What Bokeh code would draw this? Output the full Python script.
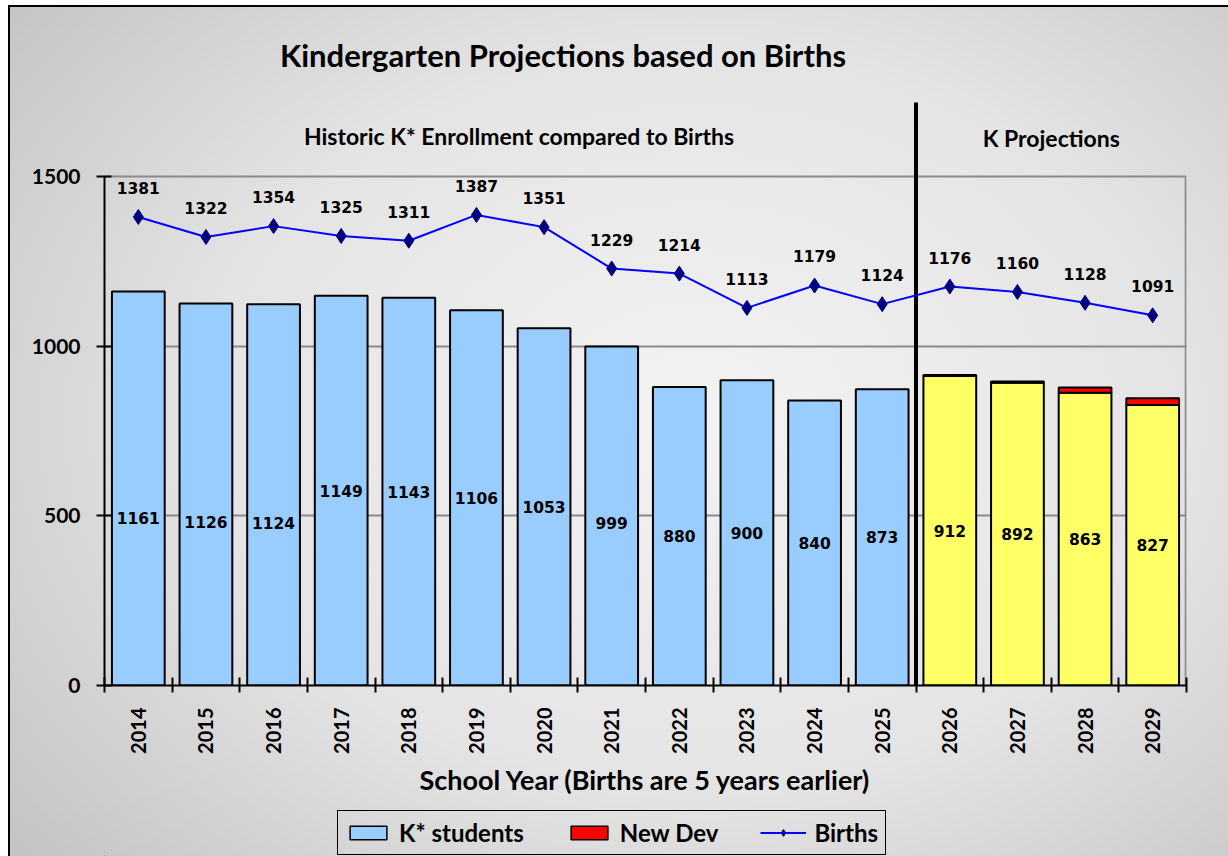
from bokeh.plotting import figure
from bokeh.layouts import column
from bokeh.models import (Range1d, FixedTicker, ColumnDataSource, Legend, LegendItem)
from bokeh.core.properties import value
from bokeh.embed import file_html
from bokeh.resources import INLINE

# ---------------- data ----------------
years = ["2014", "2015", "2016", "2017", "2018", "2019", "2020", "2021",
         "2022", "2023", "2024", "2025", "2026", "2027", "2028", "2029"]
k_students = [1161, 1126, 1124, 1149, 1143, 1106, 1053, 999, 880, 900, 840, 873]
k_projected = [912, 892, 863, 827]
new_dev = [3, 4, 15, 20]
births = [1381, 1322, 1354, 1325, 1311, 1387, 1351, 1229, 1214, 1113, 1179,
          1124, 1176, 1160, 1128, 1091]
y_ticks = [0, 500, 1000, 1500]
series_names = ["K* students", "New Dev", "Births"]

title_text = "Kindergarten Projections based on Births"
hist_text = "Historic K* Enrollment compared to Births"
proj_text = "K Projections"
x_label = "School Year (Births are 5 years earlier)"

# label placement tweaks (styling only)
bar_label_px_shift = [29, 28, 28, 0, 0, 0, 0, 7, 0, 0, 0, 0, 0, 0, 0, 0]

n_hist = len(k_students)
n = len(years)
xc = [i + 0.5 for i in range(n)]

TXT = "Lato"
NUM = "DejaVu Sans"
BLUE_BAR = "#99ccff"
YELLOW = "#ffff66"
RED = "#ff0000"
LINE = "#0000ff"
MARK = "#000080"

p = figure(width=1228, height=800, output_backend="svg", toolbar_location=None,
           x_range=Range1d(0, n), y_range=Range1d(0, 2019),
           min_border_left=104, min_border_right=42, min_border_top=0,
           min_border_bottom=115)
p.border_fill_alpha = 0
p.background_fill_alpha = 0
p.outline_line_color = None

# grid
p.xgrid.visible = False
p.ygrid.ticker = FixedTicker(ticks=[500, 1000, 1500])
p.ygrid.grid_line_color = "#8a8a8a"
p.ygrid.grid_line_width = 2

# y axis
ya = p.yaxis[0]
ya.ticker = FixedTicker(ticks=y_ticks)
ya.bounds = (0, 1500)
ya.axis_line_color = "black"
ya.axis_line_width = 2
ya.major_tick_in = 7
ya.major_tick_out = 8
ya.major_tick_line_width = 2
ya.minor_tick_line_color = None
ya.major_label_standoff = 16
ya.major_label_text_font = TXT
ya.major_label_text_font_style = "bold"
ya.major_label_text_font_size = "21px"
ya.major_label_text_color = "black"

# x axis
xa = p.xaxis[0]
xa.ticker = FixedTicker(ticks=xc, minor_ticks=list(range(n + 1)))
xa.major_label_overrides = {c: y for c, y in zip(xc, years)}
xa.major_tick_line_color = None
xa.major_tick_in = 0
xa.major_tick_out = 0
xa.minor_tick_line_color = "black"
xa.minor_tick_line_width = 2
xa.minor_tick_in = 8
xa.minor_tick_out = 7
xa.axis_line_color = "black"
xa.axis_line_width = 2
xa.major_label_orientation = 1.5708
xa.major_label_standoff = 15
xa.major_label_text_font = TXT
xa.major_label_text_font_style = "bold"
xa.major_label_text_font_size = "20px"
xa.major_label_text_color = "black"
xa.axis_label = x_label
xa.axis_label_text_font = TXT
xa.axis_label_text_font_style = "bold"
xa.axis_label_text_font_size = "27px"
xa.axis_label_text_color = "black"
xa.axis_label_standoff = 6

# right border of plot area and divider
p.segment(x0=[n - 0.012], y0=[0], x1=[n - 0.012], y1=[y_ticks[-1]],
          line_color="#8a8a8a", line_width=2)
p.segment(x0=[n_hist], y0=[0], x1=[n_hist], y1=[1718],
          line_color="black", line_width=4)

# bars
hist_src = ColumnDataSource(dict(x=xc[:n_hist], top=k_students))
p.vbar(x="x", top="top", width=0.78, bottom=0, source=hist_src,
       fill_color=BLUE_BAR, line_color="black", line_width=2)
proj_x = xc[n_hist:]
tot = [a + b for a, b in zip(k_projected, new_dev)]
p.vbar(x=proj_x, top=k_projected, bottom=0, width=0.78,
       fill_color=YELLOW, line_color="black", line_width=2)
p.vbar(x=proj_x, top=tot, bottom=k_projected, width=0.78,
       fill_color=RED, line_color="black", line_width=2)

# births line
p.line(xc, births, line_color=LINE, line_width=2)
p.scatter(xc, births, marker="diamond", size=15, fill_color=MARK,
          line_color=MARK)

# labels
all_k = k_students + k_projected
for i, v in enumerate(all_k):
    p.text(x=[xc[i]], y=[v / 2], text=[str(v)], text_align="center",
           text_baseline="middle", y_offset=bar_label_px_shift[i],
           text_font=value(NUM), text_font_style="bold",
           text_font_size="15.5px", text_color="black")
p.text(x=xc, y=births, text=[str(b) for b in births], text_align="center",
       text_baseline="middle", y_offset=-29, text_font=value(NUM),
       text_font_style="bold", text_font_size="15.5px", text_color="black")

# titles
p.text(x=[6.78], y=[1857], text=[title_text], text_align="center",
       text_baseline="middle", text_font=value(TXT), text_font_style="bold",
       text_font_size="31px", text_color="black")
p.text(x=[6.13], y=[1621], text=[hist_text], text_align="center",
       text_baseline="middle", text_font=value(TXT), text_font_style="bold",
       text_font_size="23px", text_color="black")
p.text(x=[14.0], y=[1615], text=[proj_text], text_align="center",
       text_baseline="middle", text_font=value(TXT), text_font_style="bold",
       text_font_size="23px", text_color="black")

# ---------------- legend strip ----------------
lf = figure(width=1228, height=56, output_backend="svg", toolbar_location=None,
            x_range=Range1d(0, 10), y_range=Range1d(0, 10),
            x_axis_location=None, y_axis_location=None,
            min_border=0)
lf.border_fill_alpha = 0
lf.background_fill_alpha = 0
lf.outline_line_color = None
lf.grid.visible = False
# off-screen sample glyphs used only for the legend swatches
r_blue = lf.vbar(x=[-100], top=[-100], bottom=[-101], width=1,
                 fill_color=BLUE_BAR, line_color="black", line_width=1.5)
r_red = lf.vbar(x=[-100], top=[-100], bottom=[-101], width=1,
                fill_color=RED, line_color="black", line_width=1.5)
r_line = lf.line(x=[-100, -99], y=[-100, -100], line_color=LINE, line_width=2)
r_mark = lf.scatter(x=[-100], y=[-100], marker="diamond", size=14,
                    fill_color=MARK, line_color=MARK)
legend = Legend(items=[LegendItem(label=series_names[0], renderers=[r_blue]),
                       LegendItem(label=series_names[1], renderers=[r_red]),
                       LegendItem(label=series_names[2], renderers=[r_line, r_mark])],
                orientation="horizontal", location=(233, 1))
legend.border_line_color = "black"
legend.border_line_alpha = 1.0
legend.border_line_width = 1.5
legend.background_fill_alpha = 0
legend.label_text_font = TXT
legend.label_text_font_style = "bold"
legend.label_text_font_size = "24px"
legend.label_text_color = "black"
legend.glyph_width = 46
legend.glyph_height = 17
legend.label_height = 20
legend.label_standoff = 8
legend.spacing = 42
legend.padding = 7
legend.margin = 0
lf.add_layout(legend, "center")

page = column(p, lf, spacing=0)
page.styles = {
    "background":
        "linear-gradient(#000, #000) 8px 5px / 2px 100% no-repeat, "
        "linear-gradient(#000, #000) 8px 5px / 100% 2px no-repeat, "
        "radial-gradient(ellipse 72% 78% at 56% 48%, #f3f3f3 0%, #e4e4e4 55%, #c4c4c4 100%) 10px 7px / 100% 100% no-repeat, "
        "#ffffff",
}

open("out.html", "w").write(file_html(page, INLINE))
